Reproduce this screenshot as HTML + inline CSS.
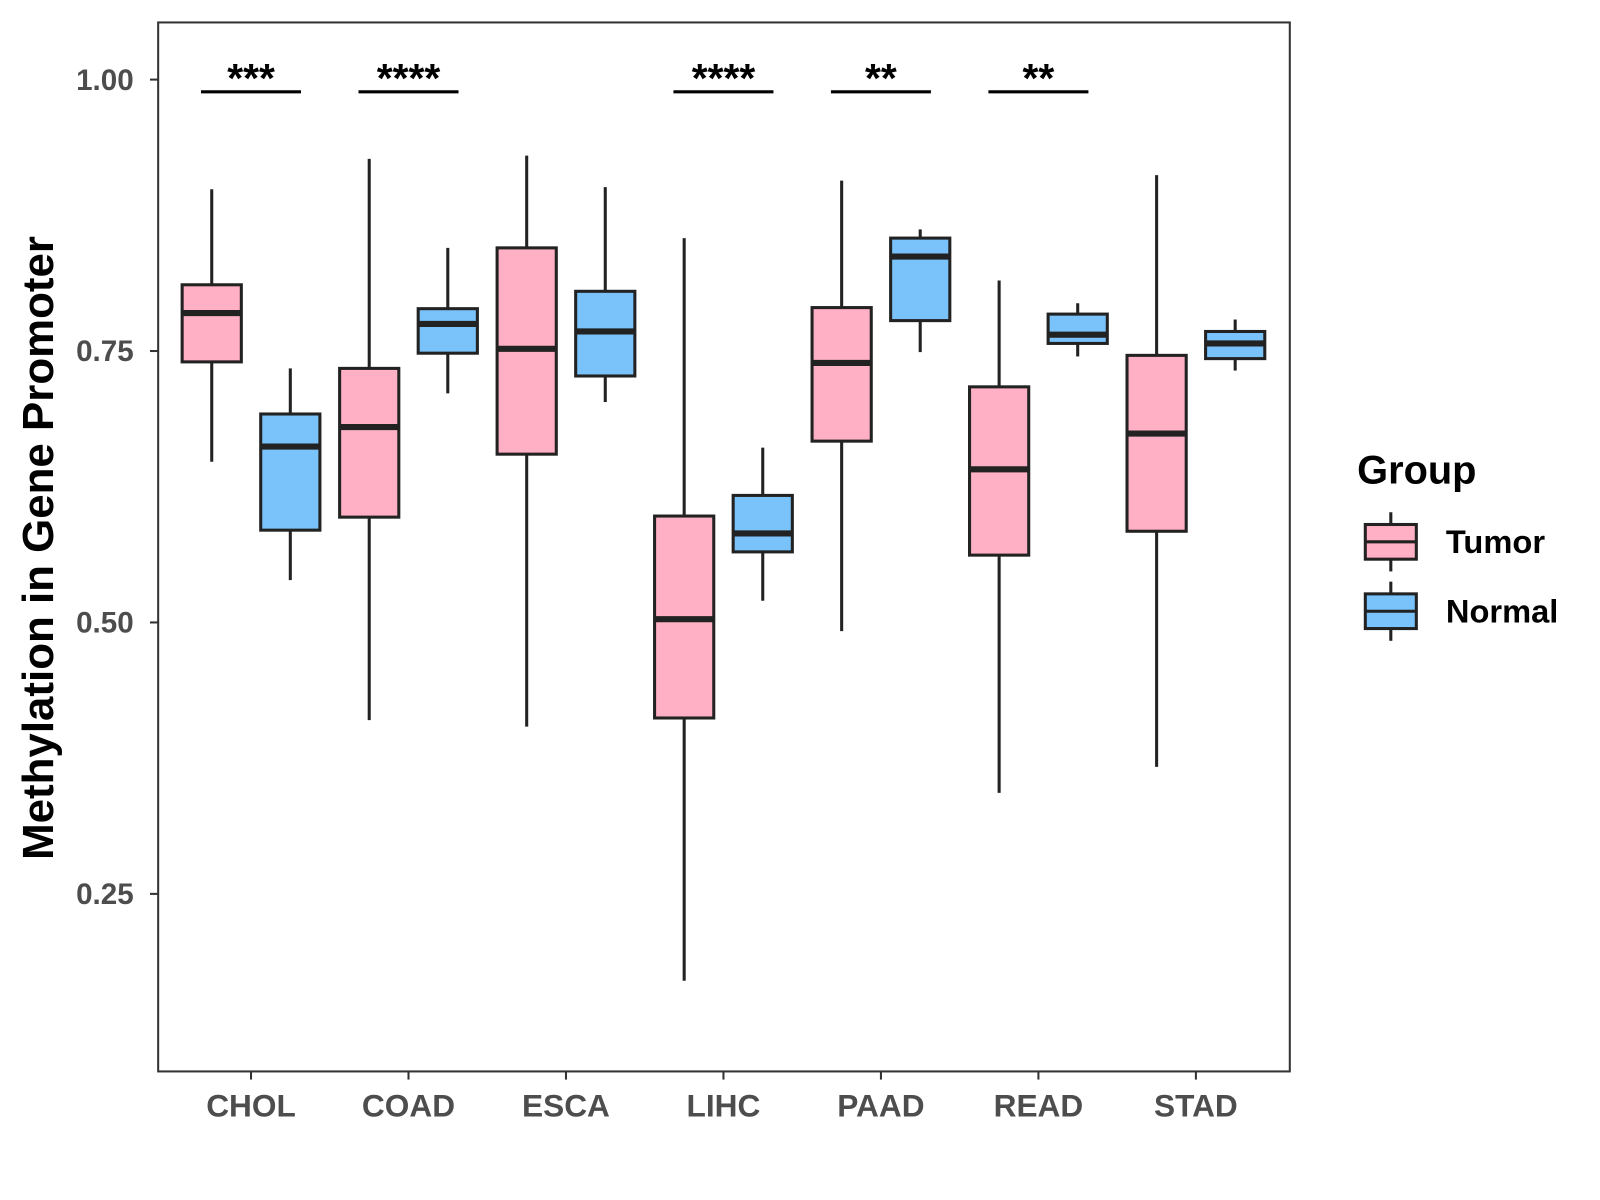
<!DOCTYPE html>
<html><head><meta charset="utf-8"><style>
html,body{margin:0;padding:0;background:#fff;width:1600px;height:1200px;overflow:hidden}
svg{display:block;font-family:"Liberation Sans",Arial,sans-serif}
</style></head><body>
<svg id="chart" width="1600" height="1200" viewBox="0 0 1568 1176" xmlns="http://www.w3.org/2000/svg">
<rect width="1568" height="1176" fill="#fff"/>
<g id="plot"></g>
</svg>
<script>
const categories = ["CHOL","COAD","ESCA","LIHC","PAAD","READ","STAD"];
// [lowerWhisker, q1, median, q3, upperWhisker]
const tumorStats = [
  [0.648,0.740,0.785,0.811,0.899],
  [0.410,0.597,0.680,0.734,0.927],
  [0.404,0.655,0.752,0.845,0.930],
  [0.170,0.412,0.503,0.598,0.854],
  [0.492,0.667,0.739,0.790,0.907],
  [0.343,0.562,0.641,0.717,0.815],
  [0.367,0.584,0.674,0.746,0.912]
];
const normalStats = [
  [0.539,0.585,0.662,0.692,0.734],
  [0.711,0.748,0.775,0.789,0.845],
  [0.703,0.727,0.768,0.805,0.901],
  [0.520,0.565,0.582,0.617,0.661],
  [0.749,0.778,0.837,0.854,0.862],
  [0.745,0.757,0.765,0.784,0.794],
  [0.732,0.743,0.757,0.768,0.779]
];
const sigLabels = ["***","****","","****","**","**",""];
const yTicks = [0.25,0.50,0.75,1.00];
const yTickLabels = ["0.25","0.50","0.75","1.00"];

const NS="http://www.w3.org/2000/svg";
const g=document.getElementById('plot');
const L=155,R=1264,T=22,B=1050;
function yS(v){return 78+(1-v)*1064;}
function xS(i){return 246+i*154.33;}
function el(tag,attrs,parent){const e=document.createElementNS(NS,tag);for(const k in attrs)e.setAttribute(k,attrs[k]);(parent||g).appendChild(e);return e;}

const panel=el('rect',{x:L,y:T,width:R-L,height:B-T,fill:'none',stroke:'#333',"stroke-width":2});



yTicks.forEach((v,i)=>{
  const y=yS(v);
  const tk=el('line',{x1:L-8,x2:L,y1:y,y2:y,stroke:'#333',"stroke-width":2});
  
  
  const t=el('text',{x:L-24,y:y+10,"text-anchor":"end","font-size":29,"font-weight":"bold",fill:'#4d4d4d'});
  t.textContent=yTickLabels[i];
  
  
});

function drawBox(cx,s,fill,name){
  const w=58;
  const grp=el('g',{});
  
  
  el('line',{x1:cx,x2:cx,y1:yS(s[4]),y2:yS(s[3]),stroke:'#222',"stroke-width":3},grp);
  el('line',{x1:cx,x2:cx,y1:yS(s[1]),y2:yS(s[0]),stroke:'#222',"stroke-width":3},grp);
  el('rect',{x:cx-w/2,y:yS(s[3]),width:w,height:yS(s[1])-yS(s[3]),fill:fill,stroke:'#222',"stroke-width":3},grp);
  el('line',{x1:cx-w/2,x2:cx+w/2,y1:yS(s[2]),y2:yS(s[2]),stroke:'#222',"stroke-width":6},grp);
}

categories.forEach((c,i)=>{
  const cx=xS(i);
  drawBox(cx-38.5,tumorStats[i],'#FFB0C4','box-tumor-'+c.toLowerCase());
  drawBox(cx+38.5,normalStats[i],'#79C3FA','box-normal-'+c.toLowerCase());
  const tk=el('line',{x1:cx,x2:cx,y1:B,y2:B+8,stroke:'#333',"stroke-width":2});
  
  
  const t=el('text',{x:cx,y:B+44,"text-anchor":"middle","font-size":31,"font-weight":"bold",fill:'#4d4d4d'});
  t.textContent=c;
  
  
  if(sigLabels[i]){
    const ln=el('line',{x1:cx-49,x2:cx+49,y1:90,y2:90,stroke:'#000',"stroke-width":3});
    
    
    const st=el('text',{x:cx,y:90,"text-anchor":"middle","font-size":40,"font-weight":"bold",fill:'#000'});
    st.textContent=sigLabels[i];
    
    
  }
});

const yt=el('text',{x:0,y:0,transform:'translate(52,537) rotate(-90)',"text-anchor":"middle","font-size":43,"font-weight":"bold",fill:'#000'});
yt.textContent='Methylation in Gene Promoter';



const lt=el('text',{x:1330,y:474,"font-size":39,"font-weight":"bold",fill:'#000'});
lt.textContent='Group';


[['Tumor','#FFB0C4',531],['Normal','#79C3FA',599]].forEach(([n,f,cy])=>{
  const lg=el('g',{});
  
  
  el('line',{x1:1363,x2:1363,y1:cy-29,y2:cy+29,stroke:'#222',"stroke-width":3},lg);
  el('rect',{x:1338,y:cy-17,width:50,height:34,fill:f,stroke:'#222',"stroke-width":3},lg);
  el('line',{x1:1338,x2:1388,y1:cy,y2:cy,stroke:'#222',"stroke-width":3},lg);
  const t=el('text',{x:1417,y:cy+11,"font-size":32,"font-weight":"bold",fill:'#000'},lg);
  t.textContent=n;
});
</script>
</body></html>
